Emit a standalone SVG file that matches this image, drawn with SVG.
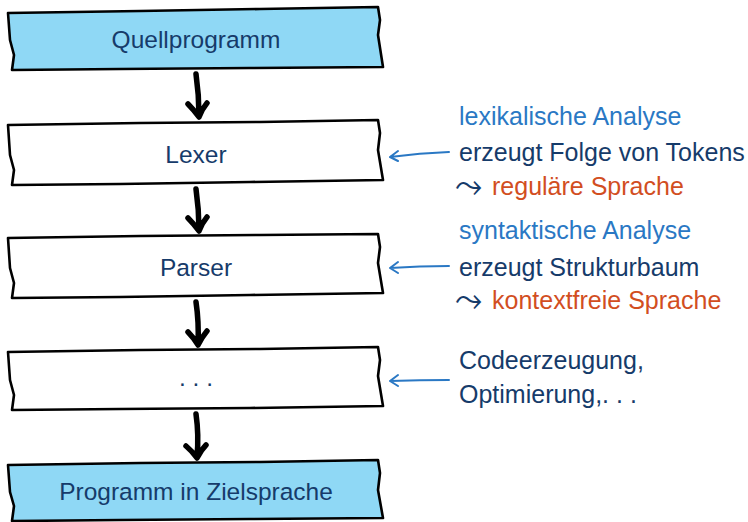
<svg xmlns="http://www.w3.org/2000/svg" width="748" height="522" viewBox="0 0 748 522">
<style>
.box{stroke:#000;stroke-width:2.6;stroke-linejoin:round;stroke-linecap:round}
.blue{fill:#8fd8f5}
.white{fill:#fff}
.lbl{font-family:"Liberation Sans",Arial,sans-serif;font-size:24.5px;fill:#163b6a;text-anchor:middle}
.t{font-family:"Liberation Sans",Arial,sans-serif;font-size:25px}
.sym{font-family:"DejaVu Sans",sans-serif;font-size:34px;fill:#163b6a}
.c1{fill:#2a78c4}.c2{fill:#163b6a}.c3{fill:#d24e1f}
.arr{fill:none;stroke:#000;stroke-width:5.5;stroke-linecap:round;stroke-linejoin:round}
.barr{fill:none;stroke:#2a78c4;stroke-width:2;stroke-linecap:round;stroke-linejoin:round}
</style>
<rect width="748" height="522" fill="#fff"/>
<g id="quellprogramm">
<path class="box blue" d="M8,13 L140,11 L260,9 L378,7 L380,20 L378,35 L383,67 L250,68 L120,69 L12,70 L14,55 L10,40 Z"/>
<text class="lbl" x="196" y="48">Quellprogramm</text>
</g>
<g id="lexer">
<path class="box white" d="M8,125 L140,123 L260,122 L378,120 L380,133 L378,150 L383,180 L250,182 L120,184 L12,185 L14,170 L10,155 Z"/>
<text class="lbl" x="196" y="163">Lexer</text>
</g>
<g id="parser">
<path class="box white" d="M8,238 L140,236 L260,235 L378,234 L380,247 L378,263 L383,293 L250,295 L120,297 L12,298 L14,283 L10,268 Z"/>
<text class="lbl" x="196" y="276">Parser</text>
</g>
<g id="dots">
<path class="box white" d="M8,352 L140,350 L260,349 L378,347 L380,360 L378,376 L383,406 L250,408 L120,409 L12,410 L14,395 L10,380 Z"/>
<text class="lbl" x="196" y="386">. . .</text>
</g>
<g id="ziel">
<path class="box blue" d="M8,465 L140,463 L260,462 L378,460 L380,473 L378,490 L383,518 L250,519 L120,520 L12,521 L14,506 L10,492 Z"/>
<text class="lbl" x="196" y="500">Programm in Zielsprache</text>
</g>
<g id="connectors">
<path class="arr" d="M196,74 Q199,95 199,116 M188,104 Q194,110 199,117 Q202,109 207,103"/>
<path class="arr" d="M196,189 Q199,210 199,230 M188,218 Q194,224 199,231 Q202,223 207,217"/>
<path class="arr" d="M196,302 Q199,322 198,344 M188,332 Q194,338 198,345 Q202,337 207,331"/>
<path class="arr" d="M196,414 Q199,435 197,457 M186,446 Q192,451 197,458 Q201,450 206,445"/>
<path class="barr" d="M449,152 Q420,153 390,157 M398,151 L390,157 L398,161"/>
<path class="barr" d="M449,266 Q420,266 390,268 M398,262 L390,268 L398,273"/>
<path class="barr" d="M449,380 Q420,380 390,381 M398,375 L390,381 L398,386"/>
</g>
<g id="notes">
<text class="t c1" x="459" y="125">lexikalische Analyse</text>
<text class="t c2" x="459" y="161">erzeugt Folge von Tokens</text>
<text class="sym" x="455" y="197">⤳</text>
<text class="t c3" x="492" y="195">reguläre Sprache</text>
<text class="t c1" x="459" y="239">syntaktische Analyse</text>
<text class="t c2" x="459" y="276">erzeugt Strukturbaum</text>
<text class="sym" x="455" y="311">⤳</text>
<text class="t c3" x="492" y="309">kontextfreie Sprache</text>
<text class="t c2" x="459" y="369">Codeerzeugung,</text>
<text class="t c2" x="459" y="403">Optimierung,. . .</text>
</g>
</svg>
